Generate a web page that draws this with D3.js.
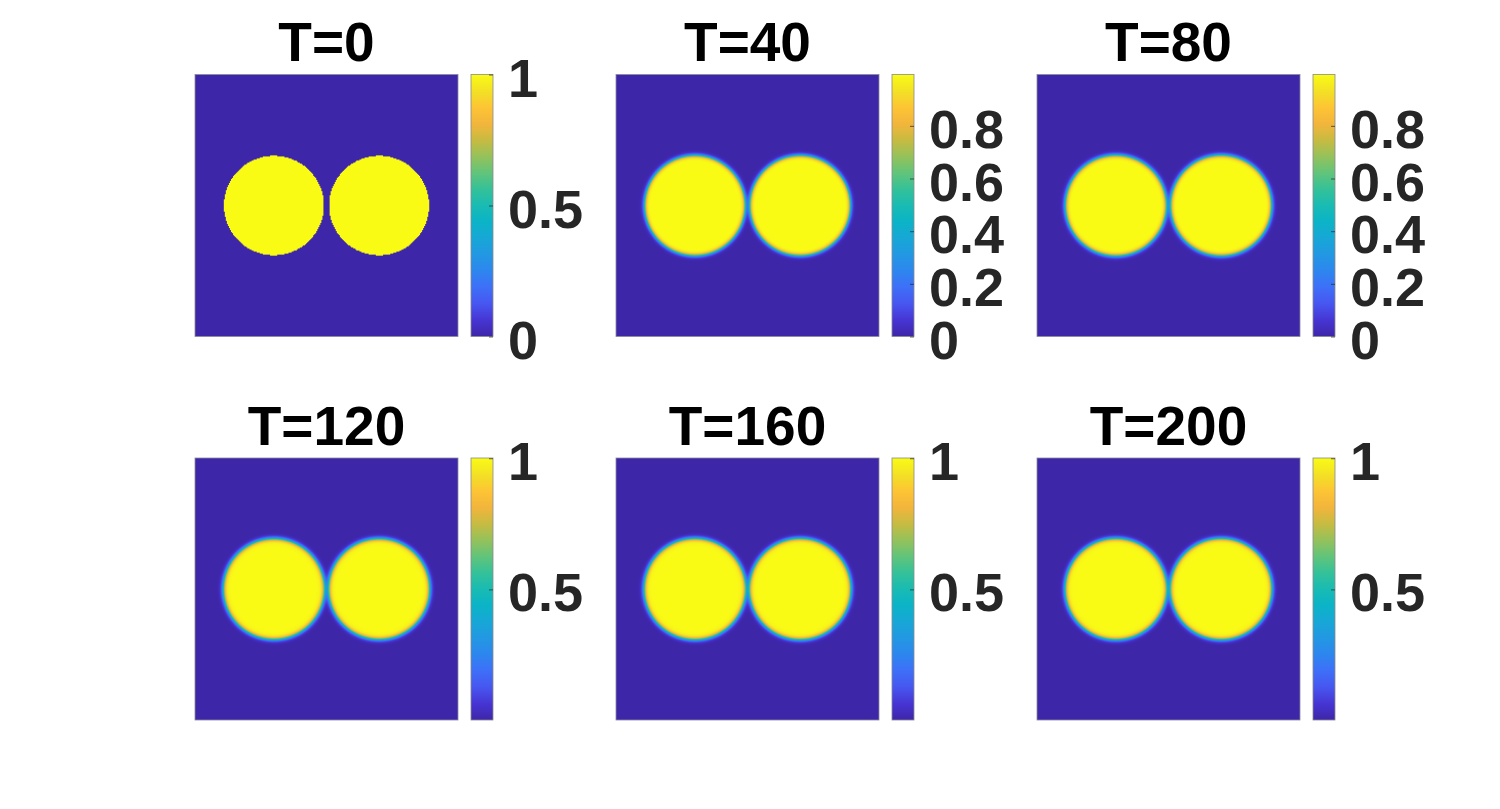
<!DOCTYPE html>
<html>
<head>
<meta charset="utf-8">
<script src="https://cdn.jsdelivr.net/npm/d3@7"></script>
<style>
  body { margin: 0; background: #fff; }
  svg { display: block; }
</style>
</head>
<body>
<div id="chart"></div>
<script>
// panel data
const times = [0, 40, 80, 120, 160, 200]
const centersX = [0.3, 0.7]
const centerY = 0.5
const radius = [0.19, 0.191, 0.192, 0.192, 0.193, 0.193]
const interfaceWidth = [0, 0.0085, 0.009, 0.0095, 0.0095, 0.0095]
const colorMin = [0, 0, 0, 0.002, 0.002, 0.002]
const colorMax = [1, 0.995, 0.995, 1.001, 1.001, 1.001]
const tickValues = [
  [0, 0.5, 1],
  [0, 0.2, 0.4, 0.6, 0.8],
  [0, 0.2, 0.4, 0.6, 0.8],
  [0.5, 1],
  [0.5, 1],
  [0.5, 1]
]
const tickLabels = [
  ['0', '0.5', '1'],
  ['0', '0.2', '0.4', '0.6', '0.8'],
  ['0', '0.2', '0.4', '0.6', '0.8'],
  ['0.5', '1'],
  ['0.5', '1'],
  ['0.5', '1']
]
// parula colormap anchors
const parulaStops = [0, 0.06, 0.125, 0.19, 0.25, 0.31, 0.375, 0.44, 0.5, 0.56, 0.625, 0.69, 0.75, 0.81, 0.87, 0.93, 1]
const parulaColors = ['#3e26a8', '#4634d2', '#4756f0', '#3d70f8', '#2d86ee', '#2397e3', '#17a7d6',
  '#0bb4c6', '#19bbb2', '#33c19a', '#62c47a', '#98c159', '#c8bb41', '#f2b53c', '#fdc335', '#f3de26', '#f9fb15']

const gridSize = 256
const cols = [195, 616, 1037]
const rows = [74.5, 458]
const axW = 263
const axH = 262
const cbGap = 276
const cbW = 22
const font = '"Liberation Sans", Arial, Helvetica, sans-serif'

const parula = d3.scaleLinear()
  .domain(parulaStops)
  .range(parulaColors)
  .interpolate(d3.interpolateRgb)
  .clamp(true)

const svg = d3
  .select('#chart')
  .append('svg')
  .attr('width', 1500)
  .attr('height', 809)

const defs = svg.append('defs')
const grad = defs.append('linearGradient')
  .attr('id', 'parula')
  .attr('x1', 0).attr('y1', 1)
  .attr('x2', 0).attr('y2', 0)
grad.selectAll('stop')
  .data(parulaStops)
  .enter()
  .append('stop')
  .attr('offset', d => d)
  .attr('stop-color', (d, i) => parulaColors[i])

function fieldImage(k) {
  const canvas = document.createElement('canvas')
  canvas.width = gridSize
  canvas.height = gridSize
  const ctx = canvas.getContext('2d')
  const img = ctx.createImageData(gridSize, gridSize)
  const norm = d3.scaleLinear().domain([colorMin[k], colorMax[k]]).range([0, 1])
  for (let j = 0; j < gridSize; j++) {
    const yy = (j + 0.5) / gridSize
    for (let i = 0; i < gridSize; i++) {
      const xx = (i + 0.5) / gridSize
      let phi = 0
      centersX.forEach(cx => {
        const d = Math.hypot(xx - cx, yy - centerY)
        if (interfaceWidth[k] === 0) phi += d < radius[k] ? 1 : 0
        else phi += 0.5 * (1 - Math.tanh((d - radius[k]) / interfaceWidth[k]))
      })
      const c = d3.rgb(parula(norm(Math.min(phi, 1))))
      const p = (j * gridSize + i) * 4
      img.data[p] = c.r
      img.data[p + 1] = c.g
      img.data[p + 2] = c.b
      img.data[p + 3] = 255
    }
  }
  ctx.putImageData(img, 0, 0)
  return canvas.toDataURL()
}

times.forEach((t, k) => {
  const x0 = cols[k % 3]
  const y0 = rows[Math.floor(k / 3)]

  const x = d3.scaleLinear().domain([0, 1]).range([x0, x0 + axW])
  const y = d3.scaleLinear().domain([0, 1]).range([y0, y0 + axH])

  const g = svg.append('g')

  // field
  g.append('image')
    .attr('href', fieldImage(k))
    .attr('x', x(0))
    .attr('y', y(0))
    .attr('width', x(1) - x(0))
    .attr('height', y(1) - y(0))
    .attr('preserveAspectRatio', 'none')

  g.append('rect')
    .attr('x', x(0))
    .attr('y', y(0))
    .attr('width', x(1) - x(0))
    .attr('height', y(1) - y(0))
    .attr('fill', 'none')
    .attr('stroke', '#8a8a9a')
    .attr('stroke-width', 0.8)

  // title
  g.append('text')
    .attr('x', (x(0) + x(1)) / 2)
    .attr('y', y0 - 13.5)
    .attr('text-anchor', 'middle')
    .attr('font-family', font)
    .attr('font-weight', 'bold')
    .attr('font-size', 55)
    .attr('fill', '#000')
    .text('T=' + t)

  // colorbar
  const cb = d3.scaleLinear()
    .domain([colorMin[k], colorMax[k]])
    .range([y0 + axH, y0])
  const cbX = x0 + cbGap

  g.append('rect')
    .attr('x', cbX)
    .attr('y', y0)
    .attr('width', cbW)
    .attr('height', axH)
    .attr('fill', 'url(#parula)')
    .attr('stroke', '#8a8a8a')
    .attr('stroke-width', 0.8)

  const axis = g.append('g')
    .attr('transform', 'translate(' + (cbX + cbW) + ',0)')
    .call(d3.axisRight(cb)
      .tickValues(tickValues[k])
      .tickFormat((d, i) => tickLabels[k][i])
      .tickSize(-4)
      .tickPadding(15))
  axis.select('.domain').remove()
  axis.selectAll('line')
    .attr('stroke', '#262626')
    .attr('stroke-opacity', 0.7)
  axis.selectAll('text')
    .attr('dy', '0.38em')
    .attr('y', 1)
    .attr('font-family', font)
    .attr('font-weight', 'bold')
    .attr('font-size', 54)
    .attr('fill', '#262626')
})
</script>
</body>
</html>
